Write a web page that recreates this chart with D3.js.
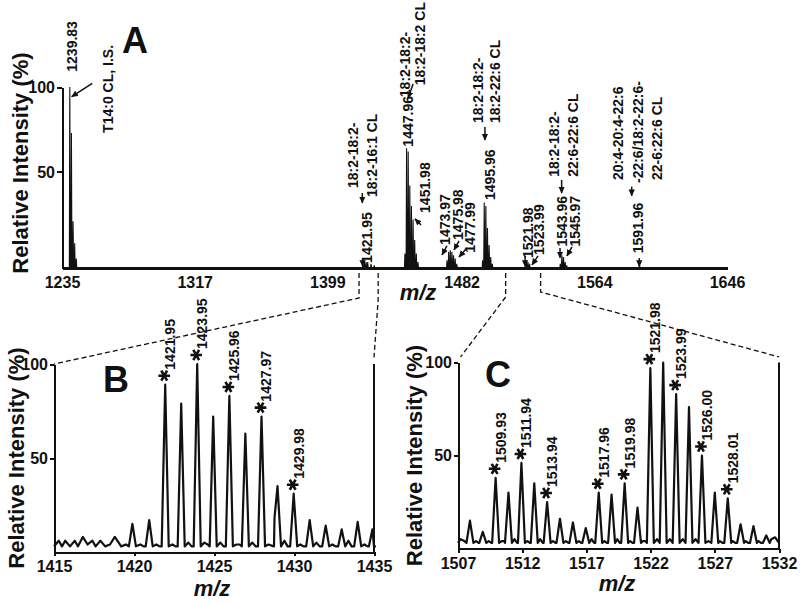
<!DOCTYPE html>
<html><head><meta charset="utf-8">
<script src="https://cdn.jsdelivr.net/npm/d3@7"></script>
<style>
body{margin:0;background:#fff}
svg{display:block}
text{font-family:"Liberation Sans",Arial,Helvetica,sans-serif;fill:#111}
.axis path,.axis line{stroke:#111;stroke-width:2;shape-rendering:crispEdges}
.axis text{font-size:16px;font-weight:bold;fill:#111}
.ann{font-size:14px;font-weight:bold}
</style>
</head><body>
<svg id="chart" width="800" height="603"></svg>
<script>
// ================= DATA =================
const ticksA = [1235, 1317, 1399, 1482, 1564, 1646];
const ticksB = [1415, 1420, 1425, 1430, 1435];
const ticksC = [1507, 1512, 1517, 1522, 1527, 1532];
const yTickValues = [50, 100];

// Panel A: full-scan peaks [m/z, relative intensity %]
const peaksA = [
  [1239.83,100],[1240.83,73],[1241.83,21],[1242.83,8],[1243.83,-1],
  [1420.95,-4],[1421.95,-3],[1422.95,-3],[1423.95,-3],[1425.96,-4],[1427.97,-5],
  [1446.96,2],[1447.96,64],[1448.96,62],[1449.96,42],[1450.96,30],[1451.98,22],[1452.98,10],[1453.98,2],[1454.98,-3],
  [1472.97,-2],[1473.97,3],[1474.97,4],[1475.98,3],[1476.98,1],[1477.99,-1],[1478.99,-4],
  [1494.96,-2],[1495.96,32],[1496.96,30],[1497.96,17],[1498.96,7],[1499.96,0],[1500.96,-4],
  [1521.98,-2],[1522.98,-3],[1523.99,-4],
  [1542.96,-4],[1543.96,1],[1544.96,0],[1545.97,-3],[1546.97,-5],
  [1591.96,-5]
];

// Panel B: zoom 1415-1435 peaks and baseline noise [m/z, %]
const peaksB = [
  [1419.9,15],[1420.95,17],[1421.95,89],[1422.95,79],[1423.95,100],[1424.95,72],
  [1425.96,83],[1426.96,63],[1427.97,72],[1428.97,35],[1429.98,31],[1430.98,17],
  [1431.98,14],[1432.98,12],[1433.98,16],[1434.9,12]
];
const noiseB = [
  [1415.1,4],[1415.3,6],[1415.5,3],[1415.7,6],[1416.0,3],[1416.3,6],[1416.5,3],[1416.8,8],
  [1417.1,4],[1417.4,6],[1417.6,3],[1417.9,6],[1418.2,3],[1418.5,4],[1418.8,8],[1419.2,3],
  [1419.5,4],[1420.4,4],[1420.6,3],[1421.4,4],[1421.6,3],[1422.4,4],[1422.6,3],[1423.4,5],
  [1423.6,3],[1424.4,5],[1424.6,4],[1425.4,5],[1425.6,3],[1426.4,4],[1426.6,4],[1427.4,5],
  [1427.6,3],[1428.4,4],[1428.78,18],[1429.4,6],[1429.6,3],[1430.4,4],[1430.6,3],[1431.4,5],
  [1431.6,3],[1432.4,4],[1432.6,3],[1433.4,6],[1433.6,3],[1434.4,4],[1434.6,3]
];
const labelsB = [1421.95, 1423.95, 1425.96, 1427.97, 1429.98];

// Panel C: zoom 1507-1532 peaks and baseline noise [m/z, %]
const peaksC = [
  [1507.93,15],[1508.93,9],[1509.93,38],[1510.93,30],[1511.94,46],[1512.94,35],[1513.94,25],
  [1514.94,16],[1515.95,14],[1516.95,11],[1517.96,30],[1518.96,29],[1519.98,35],[1520.98,22],
  [1521.98,97],[1522.98,100],[1523.99,83],[1524.99,76],[1526.00,50],[1527.00,30],[1528.01,27],
  [1529.01,13],[1530.01,12],[1531.01,7]
];
const noiseC = [
  [1507.2,5],[1507.5,4],[1508.4,4],[1508.6,3],[1509.4,4],[1509.6,3],[1510.4,4],[1510.6,4],
  [1511.4,5],[1511.6,3],[1512.4,4],[1512.6,3],[1513.4,5],[1513.6,3],[1514.4,4],[1514.6,3],
  [1515.4,4],[1515.6,3],[1516.4,4],[1516.6,3],[1517.4,5],[1517.6,3],[1518.4,4],[1518.6,3],
  [1519.4,5],[1519.6,3],[1520.4,4],[1520.6,3],[1521.4,4],[1521.6,4],[1522.5,5],[1523.5,5],
  [1524.5,5],[1525.5,5],[1526.5,4],[1527.4,4],[1527.6,3],[1528.4,4],[1528.6,3],[1529.4,4],
  [1529.6,3],[1530.4,4],[1530.6,3],[1531.4,5],[1531.7,6]
];
const labelsC = [1509.93, 1511.94, 1513.94, 1517.96, 1519.98, 1521.98, 1523.99, 1526.00, 1528.01];

// Panel A annotations (positions in data units: m/z, %)
const annotA = [
  {t:"1239.83", mz:1241.0, v:109},
  {t:"T14:0 CL, I.S.", mz:1263.4, v:73},
  {t:"18:2-18:2-", mz:1415.0, v:40.6},
  {t:"18:2-16:1 CL", mz:1426.4, v:35.3},
  {t:"1421.95", mz:1423.3, v:-3.5},
  {t:"18:2-18:2-", mz:1447.0, v:94},
  {t:"18:2-18:2 CL", mz:1456.3, v:101},
  {t:"1447.96", mz:1449.0, v:64.9},
  {t:"1451.98", mz:1459.3, v:25.9},
  {t:"1473.97", mz:1471.7, v:7.1},
  {t:"1475.98", mz:1479.9, v:10},
  {t:"1477.99", mz:1487.2, v:2.4},
  {t:"18:2-18:2-", mz:1492.3, v:78.8},
  {t:"18:2-22:6 CL", mz:1502.6, v:78.8},
  {t:"1495.96", mz:1499.5, v:33.5},
  {t:"1521.98", mz:1523.2, v:-0.6},
  {t:"1523.99", mz:1530.0, v:1.2},
  {t:"18:2-18:2-", mz:1539.1, v:47.2},
  {t:"22:6-22:6 CL", mz:1551.0, v:47.2},
  {t:"1543.96", mz:1543.8, v:6.1},
  {t:"1545.97", mz:1552.1, v:6.1},
  {t:"20:4-20:4-22:6", mz:1578.8, v:45.3},
  {t:"-22:6/18:2-22:6-", mz:1591.2, v:43.5},
  {t:"22-6:22:6 CL", mz:1602.5, v:45.3},
  {t:"1591.96", mz:1591.2, v:2.2}
];
// arrows [fromMz, fromV, toMz, toV]
const arrowsA = [
  [1253.7,102.2,1241.0,94.3],
  [1420.6,37.6,1420.6,31.8],
  [1420.8,-0.6,1420.8,-5.6],
  [1452.0,101.8,1448.9,93.5],
  [1456.9,18.8,1453.2,22.4],
  [1472.9,6.5,1469.9,1.2],
  [1480.4,9.4,1477.3,4.1],
  [1484.7,4.7,1480.4,0],
  [1496.4,76.5,1496.4,68.8],
  [1521.2,0.6,1521.2,-5.6],
  [1529.2,0.6,1525.5,-4.7],
  [1543.8,45.3,1543.8,37.6],
  [1542.8,5.3,1542.8,-0.5],
  [1550.2,5.9,1547.1,0.6],
  [1587.1,41.4,1587.1,36.0],
  [1591.8,-0.6,1591.8,-5.6]
];
// Zoom windows marked on panel A axis (m/z) for the dashed connectors
const zoomWinB = [1418.6, 1430.4];
const zoomWinC = [1509.2, 1530.8];

// ================= DRAW =================
const svg = d3.select("#chart");

const defs = svg.append("defs");
defs.append("marker").attr("id","ah").attr("viewBox","0 0 10 10")
  .attr("refX",9).attr("refY",5).attr("markerWidth",7).attr("markerHeight",7)
  .attr("markerUnits","userSpaceOnUse").attr("orient","auto")
  .append("path").attr("d","M0,0.5 L10,5 L0,9.5 z").attr("fill","#111");

// Scales
const xA = d3.scaleLinear().domain([1235,1646]).range([62,727]);
const yA = d3.scaleLinear().domain([-6.5,100]).range([268,87]);
const xB = d3.scaleLinear().domain([1415,1435]).range([54,374]);
const yB = d3.scaleLinear().domain([0,100]).range([552,364]);
const xC = d3.scaleLinear().domain([1507,1532]).range([458,779]);
const yC = d3.scaleLinear().domain([0,100]).range([548.5,362.5]);

function profile(peaks, noise, halfW, floor, dom){
  const pts = [[dom[0], floor]];
  peaks.forEach(([m,h]) => { pts.push([m-halfW, floor],[m,h],[m+halfW, floor]); });
  noise.forEach(p => pts.push(p));
  pts.push([dom[1], floor]);
  return pts.sort((a,b)=>a[0]-b[0]);
}

// ---------- Panel A ----------
const gA = svg.append("g");
const lineA = d3.line().x(d=>xA(d[0])).y(d=>yA(d[1]));
gA.append("path")
  .attr("d", lineA(profile(peaksA, [], 0.3, -6.5, [1235,1646])))
  .attr("fill","#111").attr("stroke","#111").attr("stroke-width",1.1);

gA.append("g").attr("class","axis").attr("transform","translate(0,268)")
  .call(d3.axisBottom(xA).tickValues(ticksA).tickSize(0).tickSizeOuter(0).tickPadding(9).tickFormat(d3.format("d")))
  .select(".domain").style("stroke-width",2.5);
gA.append("g").attr("class","axis").attr("transform","translate(62,0)")
  .call(d3.axisLeft(yA).tickValues(yTickValues).tickSize(5).tickSizeOuter(0).tickPadding(2));

annotA.forEach(a => {
  gA.append("text").attr("class","ann")
    .attr("transform", `translate(${xA(a.mz)},${yA(a.v)}) rotate(-90)`)
    .attr("dy","0.35em").text(a.t);
});
arrowsA.forEach(a => {
  gA.append("line")
    .attr("x1", xA(a[0])).attr("y1", yA(a[1]))
    .attr("x2", xA(a[2])).attr("y2", yA(a[3]))
    .attr("stroke","#111").attr("stroke-width",1.5).attr("marker-end","url(#ah)");
});
gA.append("text").attr("x",122).attr("y",53).attr("font-size",36).attr("font-weight","bold").text("A");
gA.append("text").attr("transform","translate(20,163) rotate(-90)").attr("dy","0.35em")
  .attr("text-anchor","middle").attr("font-size",22).attr("font-weight","bold").text("Relative Intensity (%)");
gA.append("text").attr("x",418).attr("y",300).attr("text-anchor","middle").attr("font-size",22)
  .attr("font-weight","bold").attr("font-style","italic").text("m/z");

// ---------- Dashed connectors ----------
const dash = svg.append("g").attr("fill","none").attr("stroke","#111").attr("stroke-width",1.3).attr("stroke-dasharray","5,3");
const connector = d3.line();
dash.append("path").attr("d", connector([[xA(zoomWinB[0]),273],[xA(zoomWinB[0]),298],[xB(1415),yB(100)]]));
dash.append("path").attr("d", connector([[xA(zoomWinB[1]),273],[xA(zoomWinB[1]),300],[xB(1435),yB(103.5)]]));
dash.append("path").attr("d", connector([[xA(zoomWinC[0]),273],[xA(zoomWinC[0]),297],[xC(1507.2),yC(103)]]));
dash.append("path").attr("d", connector([[xA(zoomWinC[1]),273],[xA(zoomWinC[1]),292],[xC(1532),yC(103)]]));

// ---------- Zoom panels ----------
function drawZoom(x, y, peaks, noise, halfW, ticks, labels, letter, titleX, mzPos, pad){
  const g = svg.append("g");
  const line = d3.line().x(d=>x(d[0])).y(d=>y(d[1]));
  const dom = x.domain();
  g.append("path").attr("d", line(profile(peaks, noise, halfW, 3, dom)))
    .attr("fill","none").attr("stroke","#111").attr("stroke-width",2.2).attr("stroke-linejoin","round");
  // right-edge line
  g.append("line").attr("x1",x(dom[1])).attr("x2",x(dom[1])).attr("y1",y(0)).attr("y2",y(100))
    .attr("stroke","#111").attr("stroke-width",2);
  g.append("g").attr("class","axis").attr("transform",`translate(0,${y(0)})`)
    .call(d3.axisBottom(x).tickValues(ticks).tickSize(4).tickSizeOuter(0).tickPadding(pad).tickFormat(d3.format("d")));
  g.append("g").attr("class","axis").attr("transform",`translate(${x(dom[0])},0)`)
    .call(d3.axisLeft(y).tickValues(yTickValues).tickSize(4).tickSizeOuter(0).tickPadding(2));
  const sym = d3.symbol().type(d3.symbolAsterisk).size(95);
  labels.forEach(m => {
    const pk = peaks.find(p => Math.abs(p[0]-m) < 0.05);
    const px = x(m), top = y(pk[1]);
    g.append("path").attr("d", sym()).attr("transform",`translate(${px-1},${top-9}) rotate(90)`)
      .attr("fill","none").attr("stroke","#111").attr("stroke-width",2.6);
    g.append("text").attr("class","ann").attr("transform",`translate(${px+5},${top-15}) rotate(-90)`)
      .attr("dy","0.35em").text(m.toFixed(2));
  });
  g.append("text").attr("x",letter[1]).attr("y",letter[2]).attr("font-size",36).attr("font-weight","bold").text(letter[0]);
  g.append("text").attr("transform",`translate(${titleX},${(y(0)+y(100))/2}) rotate(-90)`).attr("dy","0.35em")
    .attr("text-anchor","middle").attr("font-size",22).attr("font-weight","bold").text("Relative Intensity (%)");
  g.append("text").attr("x",mzPos[0]).attr("y",mzPos[1]).attr("text-anchor","middle").attr("font-size",22)
    .attr("font-weight","bold").attr("font-style","italic").text("m/z");
}
drawZoom(xB, yB, peaksB, noiseB, 0.22, ticksB, labelsB, ["B",103,392], 16, [212,596], 5);
drawZoom(xC, yC, peaksC, noiseC, 0.27, ticksC, labelsC, ["C",485,387], 414, [617,591], 5);
</script>
</body></html>
